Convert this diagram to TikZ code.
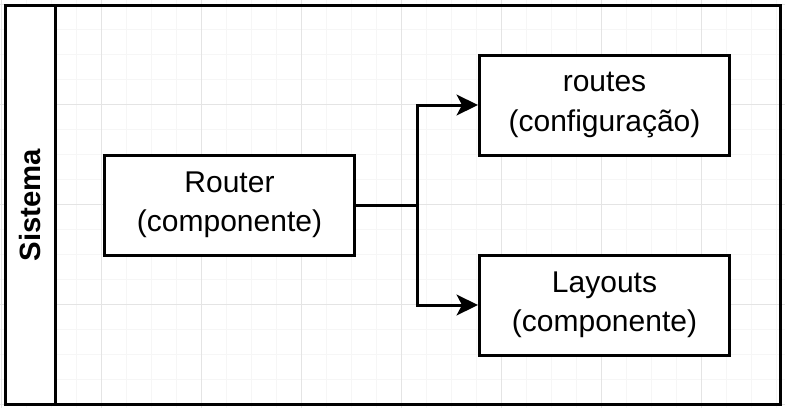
\documentclass[tikz,border=0pt]{standalone}
\usepackage{fontspec}
\setmainfont{Liberation Sans}
\usetikzlibrary{arrows.meta, positioning, calc}
\definecolor{gridminor}{HTML}{F6F6F6}
\definecolor{gridmajor}{HTML}{E4E4E4}

\tikzset{
  comp/.style={draw, line width=2.25pt, fill=white, align=center,
    minimum width=187.5pt, minimum height=75pt, inner sep=0pt,
    font=\fontsize{22.5}{29.5}\selectfont},
  conn/.style={line width=2.25pt, -{Stealth[length=16pt, width=15.5pt, inset=4pt]}},
  lane/.style={line width=2.25pt},
}

\begin{document}
\begin{tikzpicture}[x=0.75pt, y=-0.75pt]
  \useasboundingbox (0,0) rectangle (785,408);
  % background grid
  \foreach \k in {0,...,31} {
    \draw[gridminor, line width=0.75pt] ({1.5+25*\k},0) -- ({1.5+25*\k},408);
  }
  \foreach \k in {0,...,16} {
    \draw[gridminor, line width=0.75pt] (0,{4+25*\k}) -- (785,{4+25*\k});
  }
  \foreach \k in {0,...,7} {
    \draw[gridmajor, line width=0.75pt] ({1.5+100*\k},0) -- ({1.5+100*\k},408);
  }
  \foreach \k in {0,...,4} {
    \draw[gridmajor, line width=0.75pt] (0,{4+100*\k}) -- (785,{4+100*\k});
  }

  % pool with its header
  \fill[white] (5,5) rectangle (55,404);
  \draw[lane] (5,5) rectangle (780,404);
  \draw[lane] (55,5) -- (55,404);
  \node[rotate=90, font=\fontsize{22}{26}\selectfont\bfseries] (sistema) at (30,205) {Sistema};

  % components
  \node[comp] (router) at (229.5,205) {Router\\(componente)};
  \node[comp] (routes) at (604.5,105) {routes\\(configuração)};
  \node[comp] (layouts) at (604.5,305) {Layouts\\(componente)};

  % connectors
  \coordinate (split) at (417,205);
  \draw[line width=2.25pt] (router.east) -- (split);
  \draw[conn] (split) |- (routes.west);
  \draw[conn] (split) |- (layouts.west);
\end{tikzpicture}
\end{document}
